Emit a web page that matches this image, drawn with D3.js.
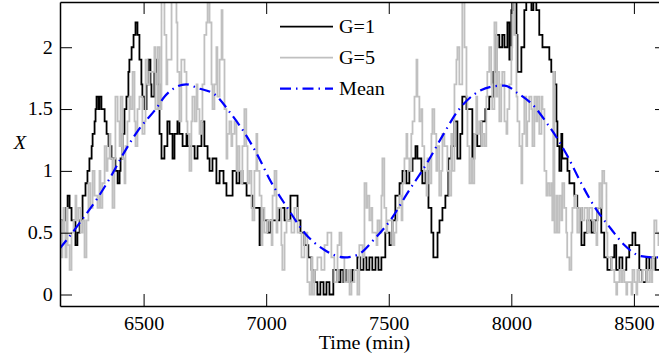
<!DOCTYPE html>
<html>
<head>
<meta charset="utf-8">
<script src="https://cdn.jsdelivr.net/npm/d3@7"></script>
<style>
  body { margin: 0; background: #fff; }
  svg { display: block; }
</style>
</head>
<body>
<div id="plotContainer"></div>
<script>
// values, [time (min), X], step changes
const g1Points = [[6157,0.5],[6165,0.6],[6181,0.7],[6190,0.8],[6198,0.7],[6206,0.6],[6222,0.4],[6230,0.5],[6239,0.6],[6251,0.8],[6263,0.9],[6271,1.0],[6279,1.1],[6288,1.2],[6292,1.3],[6300,1.4],[6304,1.5],[6308,1.6],[6316,1.5],[6320,1.6],[6328,1.5],[6341,1.4],[6349,1.3],[6357,1.2],[6369,1.1],[6385,1.0],[6394,0.9],[6402,1.0],[6406,1.1],[6414,1.3],[6422,1.5],[6430,1.6],[6438,1.8],[6442,1.9],[6451,2.0],[6459,2.1],[6467,2.2],[6475,2.1],[6483,1.9],[6491,1.7],[6495,1.6],[6504,1.5],[6512,1.7],[6520,1.9],[6528,1.7],[6532,1.6],[6544,1.8],[6553,1.9],[6557,1.7],[6565,1.3],[6573,1.1],[6585,1.2],[6597,1.4],[6606,1.3],[6618,1.1],[6626,1.3],[6638,1.4],[6646,1.3],[6659,1.2],[6675,1.3],[6679,1.2],[6708,1.1],[6720,1.2],[6736,1.4],[6748,1.2],[6761,1.1],[6769,1.0],[6781,1.1],[6797,0.9],[6810,1.0],[6826,0.9],[6838,0.8],[6863,1.0],[6879,0.9],[6891,1.0],[6903,0.9],[6920,0.8],[6944,0.7],[6973,0.4],[6981,0.7],[6989,0.6],[7006,0.5],[7018,0.6],[7054,0.7],[7075,0.6],[7099,0.8],[7128,0.6],[7140,0.5],[7156,0.4],[7172,0.3],[7185,0.2],[7197,0.1],[7209,0.0],[7221,0.1],[7234,0.0],[7246,0.1],[7258,0.0],[7274,0.2],[7291,0.1],[7303,0.2],[7315,0.1],[7327,0.2],[7340,0.1],[7352,0.2],[7372,0.3],[7384,0.2],[7397,0.3],[7409,0.2],[7421,0.3],[7433,0.2],[7446,0.3],[7458,0.2],[7470,0.3],[7486,0.5],[7503,0.4],[7515,0.6],[7527,0.8],[7544,0.9],[7556,1.0],[7572,0.9],[7584,1.0],[7597,1.1],[7609,1.2],[7617,1.1],[7633,1.0],[7637,0.9],[7650,1.0],[7662,0.7],[7674,0.5],[7682,0.3],[7699,0.5],[7707,0.6],[7719,0.7],[7731,0.8],[7743,1.1],[7755,1.2],[7768,1.4],[7780,1.1],[7792,1.3],[7800,1.6],[7817,1.5],[7841,1.1],[7849,1.3],[7861,1.2],[7878,1.4],[7894,1.5],[7910,1.6],[7927,1.8],[7939,2.1],[7951,2.0],[7963,2.1],[7972,2.0],[7984,2.2],[7992,1.9],[8000,2.3],[8008,2.4],[8021,2.1],[8025,1.8],[8041,2.0],[8053,2.3],[8061,2.4],[8082,2.3],[8090,2.4],[8102,2.3],[8114,2.1],[8127,2.0],[8155,1.9],[8163,1.8],[8176,1.7],[8184,1.4],[8188,1.2],[8196,1.0],[8204,1.3],[8208,1.1],[8229,1.0],[8237,0.9],[8257,0.8],[8269,0.7],[8286,0.4],[8298,0.5],[8310,0.6],[8327,0.5],[8339,0.6],[8351,0.7],[8367,0.5],[8379,0.3],[8392,0.2],[8408,0.3],[8420,0.4],[8428,0.2],[8441,0.3],[8453,0.2],[8469,0.3],[8481,0.4],[8494,0.5],[8506,0.4],[8522,0.2],[8534,0.1],[8551,0.3],[8563,0.2],[8575,0.3],[8588,0.2],[8640,0.2]];

const g5Points = [[6157,0.4],[6161,0.6],[6165,0.3],[6169,0.5],[6173,0.7],[6177,0.5],[6181,0.3],[6186,0.7],[6190,0.4],[6198,0.2],[6206,0.5],[6214,0.6],[6222,0.8],[6226,0.6],[6234,0.7],[6243,0.5],[6251,0.6],[6259,0.3],[6267,0.6],[6275,0.9],[6283,0.7],[6292,1.0],[6300,0.8],[6312,0.7],[6320,1.0],[6324,0.7],[6332,0.9],[6341,1.2],[6349,1.0],[6353,1.1],[6361,1.3],[6365,1.1],[6373,0.7],[6381,1.1],[6385,1.6],[6394,1.4],[6402,1.2],[6406,1.6],[6414,1.1],[6422,0.9],[6426,1.2],[6434,1.4],[6442,1.6],[6447,1.5],[6455,1.8],[6463,1.4],[6467,1.2],[6475,1.5],[6483,1.6],[6495,1.3],[6504,1.4],[6508,1.9],[6516,1.7],[6524,1.8],[6544,2.0],[6548,1.5],[6557,2.0],[6565,1.5],[6573,2.4],[6585,2.1],[6593,1.7],[6597,1.9],[6614,2.4],[6634,2.2],[6638,1.8],[6646,1.4],[6654,1.9],[6667,1.8],[6675,1.4],[6679,1.3],[6687,1.0],[6695,1.4],[6699,1.6],[6708,1.4],[6716,1.7],[6720,1.5],[6728,1.3],[6736,1.4],[6740,1.7],[6748,2.1],[6756,2.2],[6761,2.4],[6769,2.2],[6777,1.7],[6781,1.5],[6789,1.7],[6797,2.0],[6801,1.6],[6810,1.9],[6818,2.3],[6822,1.9],[6830,1.5],[6838,1.1],[6842,1.3],[6850,1.4],[6858,1.2],[6862,1.3],[6871,1.4],[6879,1.0],[6883,1.2],[6891,1.0],[6899,0.9],[6903,1.2],[6911,1.5],[6919,1.2],[6924,0.9],[6932,1.0],[6940,0.7],[6944,0.6],[6952,1.0],[6960,1.3],[6964,1.0],[6973,0.8],[6981,0.4],[6985,0.7],[6993,0.5],[7005,0.6],[7022,0.4],[7026,0.8],[7034,1.0],[7042,0.5],[7046,0.7],[7062,0.4],[7066,0.2],[7075,0.5],[7083,0.7],[7087,0.6],[7103,0.5],[7115,0.7],[7128,0.5],[7144,0.3],[7156,0.5],[7168,0.1],[7177,0.0],[7185,0.3],[7189,0.0],[7197,0.2],[7209,0.3],[7225,0.2],[7238,0.4],[7250,0.5],[7266,0.3],[7278,0.1],[7291,0.4],[7299,0.5],[7307,0.3],[7319,0.1],[7331,0.2],[7340,0.0],[7348,0.1],[7360,0.2],[7372,0.0],[7380,0.4],[7393,0.3],[7401,0.9],[7409,0.7],[7413,0.8],[7421,0.6],[7429,0.7],[7433,0.5],[7450,0.4],[7454,0.6],[7462,0.5],[7470,0.8],[7474,1.1],[7482,0.7],[7490,0.5],[7494,0.6],[7515,0.4],[7523,0.5],[7531,0.6],[7535,0.7],[7543,0.8],[7552,0.6],[7556,0.9],[7564,1.1],[7572,1.3],[7576,1.1],[7584,1.0],[7592,1.3],[7597,1.4],[7605,1.6],[7613,1.9],[7617,1.6],[7625,1.4],[7633,1.5],[7637,1.2],[7645,1.0],[7654,0.8],[7658,1.1],[7666,0.9],[7674,1.3],[7678,1.5],[7686,1.3],[7694,1.0],[7698,1.2],[7706,0.8],[7714,1.0],[7719,1.3],[7727,1.2],[7739,1.0],[7747,0.8],[7755,1.3],[7759,1.0],[7768,1.7],[7776,1.9],[7780,2.0],[7788,1.7],[7800,2.4],[7809,2.0],[7817,1.6],[7821,1.2],[7829,0.9],[7837,1.1],[7841,0.9],[7849,1.3],[7857,1.6],[7861,1.3],[7869,1.4],[7878,1.2],[7882,1.3],[7890,1.2],[7898,1.6],[7902,1.8],[7910,2.0],[7918,1.7],[7922,1.5],[7931,2.2],[7939,1.6],[7943,1.8],[7951,1.4],[7959,1.7],[7963,1.8],[7972,1.4],[7980,1.3],[7984,1.5],[7992,1.7],[8000,2.0],[8004,2.4],[8012,2.1],[8021,1.6],[8025,1.4],[8033,1.2],[8041,0.9],[8045,1.3],[8053,1.6],[8061,1.2],[8065,1.4],[8073,1.6],[8082,1.5],[8086,1.2],[8094,1.6],[8102,1.4],[8106,1.6],[8114,1.3],[8123,1.6],[8127,1.5],[8135,1.0],[8143,0.8],[8147,0.9],[8155,0.8],[8163,0.9],[8167,0.6],[8171,1.8],[8176,0.5],[8184,0.8],[8188,0.5],[8196,0.8],[8204,0.6],[8208,0.9],[8216,0.7],[8224,0.5],[8228,0.3],[8237,0.2],[8245,0.5],[8249,0.7],[8257,0.8],[8265,0.7],[8269,0.5],[8277,0.7],[8286,0.6],[8298,0.7],[8310,0.5],[8318,0.7],[8330,0.6],[8339,0.5],[8347,0.4],[8351,0.7],[8359,0.9],[8367,0.7],[8371,1.0],[8379,0.9],[8388,0.5],[8392,0.3],[8408,0.2],[8420,0.1],[8428,0.0],[8432,0.1],[8441,0.2],[8449,0.1],[8453,0.2],[8461,0.1],[8469,0.0],[8473,0.1],[8490,0.0],[8494,0.2],[8502,0.1],[8510,0.0],[8514,0.2],[8522,0.1],[8534,0.2],[8551,0.1],[8563,0.2],[8571,0.1],[8575,0.3],[8583,0.6],[8592,0.5],[8600,0.4],[8640,0.4]];

const meanPoints = [[6157,0.37],[6190,0.45],[6258,0.63],[6312,0.78],[6365,0.95],[6421,1.15],[6475,1.32],[6557,1.52],[6585,1.60],[6674,1.70],[6720,1.67],[6789,1.62],[6857,1.46],[6911,1.31],[6964,1.13],[7020,0.91],[7087,0.70],[7156,0.50],[7238,0.36],[7319,0.30],[7372,0.32],[7442,0.45],[7510,0.61],[7576,0.82],[7658,1.07],[7727,1.31],[7780,1.48],[7849,1.62],[7917,1.68],[7972,1.69],[8025,1.63],[8094,1.52],[8147,1.38],[8188,1.26],[8229,1.12],[8285,0.90],[8339,0.71],[8407,0.53],[8461,0.40],[8529,0.31],[8584,0.30],[8640,0.30]];

const xTicks = [6500, 7000, 7500, 8000, 8500];
const yTicks = [0, 0.5, 1, 1.5, 2];
const legendNames = ["G=1", "G=5", "Mean"];

/*** canvas and box ***/
const svgWidth = 659, svgHeight = 362;
const box = {left: 60, right: 667, top: 2, bottom: 306};
const fontFamily = '"Liberation Serif", "Times New Roman", serif';
const fontSize = 18;
const stretch = "scale(1.12,1)"; // the figure's text is a bit wider than normal

const svg = d3.select("#plotContainer")
  .append("svg")
  .attr("width", svgWidth)
  .attr("height", svgHeight);

const xScale = d3.scaleLinear()
  .domain([6159, 8635])
  .range([box.left, box.right]);

const yScale = d3.scaleLinear()
  .domain([-0.093, 2.366])
  .range([box.bottom, box.top]);

// clip the series to the axes box
svg.append("clipPath")
  .attr("id", "plotClip")
  .append("rect")
  .attr("x", box.left + 0.5)
  .attr("y", box.top + 0.5)
  .attr("width", box.right - box.left)
  .attr("height", box.bottom - box.top);

/*** series ***/
const stepLine = d3.line()
  .x(d => xScale(d[0]))
  .y(d => yScale(d[1]))
  .curve(d3.curveStepAfter);

const smoothLine = d3.line()
  .x(d => xScale(d[0]))
  .y(d => yScale(d[1]))
  .curve(d3.curveMonotoneX);

const plotG = svg.append("g").attr("clip-path", "url(#plotClip)");

const seriesStyle = [
  {stroke: "#000000", width: 1.8, dash: null},
  {stroke: "#c0c0c0", width: 1.8, dash: null},
  {stroke: "#0000ff", width: 2.2, dash: "11,5,1.5,5"}
];

plotG.append("path")
  .datum(g1Points)
  .attr("d", stepLine)
  .attr("fill", "none")
  .attr("stroke", seriesStyle[0].stroke)
  .attr("stroke-width", seriesStyle[0].width);

plotG.append("path")
  .datum(g5Points)
  .attr("d", stepLine)
  .attr("fill", "none")
  .attr("stroke", seriesStyle[1].stroke)
  .attr("stroke-width", seriesStyle[1].width);

plotG.append("path")
  .datum(meanPoints)
  .attr("d", smoothLine)
  .attr("fill", "none")
  .attr("stroke", seriesStyle[2].stroke)
  .attr("stroke-width", seriesStyle[2].width)
  .attr("stroke-dasharray", seriesStyle[2].dash);

/*** axes: ticks point inward on all four sides ***/
const fmt = d => d;

const xAxisG = svg.append("g")
  .attr("transform", "translate(0," + box.bottom + ")")
  .call(d3.axisBottom(xScale).tickValues(xTicks).tickFormat(fmt)
    .tickSizeInner(-12).tickSizeOuter(0).tickPadding(11.2));

const yAxisG = svg.append("g")
  .attr("transform", "translate(" + box.left + ",0)")
  .call(d3.axisLeft(yScale).tickValues(yTicks).tickFormat(fmt)
    .tickSizeInner(-12).tickSizeOuter(0).tickPadding(6.3));

const topAxisG = svg.append("g")
  .attr("transform", "translate(0," + box.top + ")")
  .call(d3.axisTop(xScale).tickValues(xTicks).tickFormat("")
    .tickSizeInner(-12).tickSizeOuter(0));

const rightAxisG = svg.append("g")
  .attr("transform", "translate(" + box.right + ",0)")
  .call(d3.axisRight(yScale).tickValues(yTicks).tickFormat("")
    .tickSizeInner(-12).tickSizeOuter(0));

[xAxisG, yAxisG].forEach(g => {
  g.attr("font-family", fontFamily).attr("font-size", fontSize);
  g.selectAll("text").attr("fill", "#000").attr("transform", stretch);
});

// the box line is a little heavier than the ticks
[xAxisG, yAxisG, topAxisG, rightAxisG].forEach(g => {
  g.select(".domain").attr("stroke-width", 1.5);
});

// axis labels
svg.append("text")
  .attr("transform", "translate(364.5,349) " + stretch)
  .attr("text-anchor", "middle")
  .attr("font-family", fontFamily)
  .attr("font-size", fontSize)
  .text("Time (min)");

svg.append("text")
  .attr("transform", "translate(20,149) " + stretch)
  .attr("text-anchor", "middle")
  .attr("font-family", fontFamily)
  .attr("font-size", fontSize)
  .attr("font-style", "italic")
  .text("X");

/*** legend ***/
const legend = svg.append("g");
legendNames.forEach((name, i) => {
  const ly = 26.7 + i * 31;
  legend.append("line")
    .attr("x1", 280).attr("x2", 333)
    .attr("y1", ly).attr("y2", ly)
    .attr("stroke", seriesStyle[i].stroke)
    .attr("stroke-width", seriesStyle[i].width)
    .attr("stroke-dasharray", seriesStyle[i].dash);
  legend.append("text")
    .attr("transform", "translate(339," + (ly + 6.6) + ") " + stretch)
    .attr("font-family", fontFamily)
    .attr("font-size", fontSize)
    .text(name);
});
</script>
</body>
</html>
